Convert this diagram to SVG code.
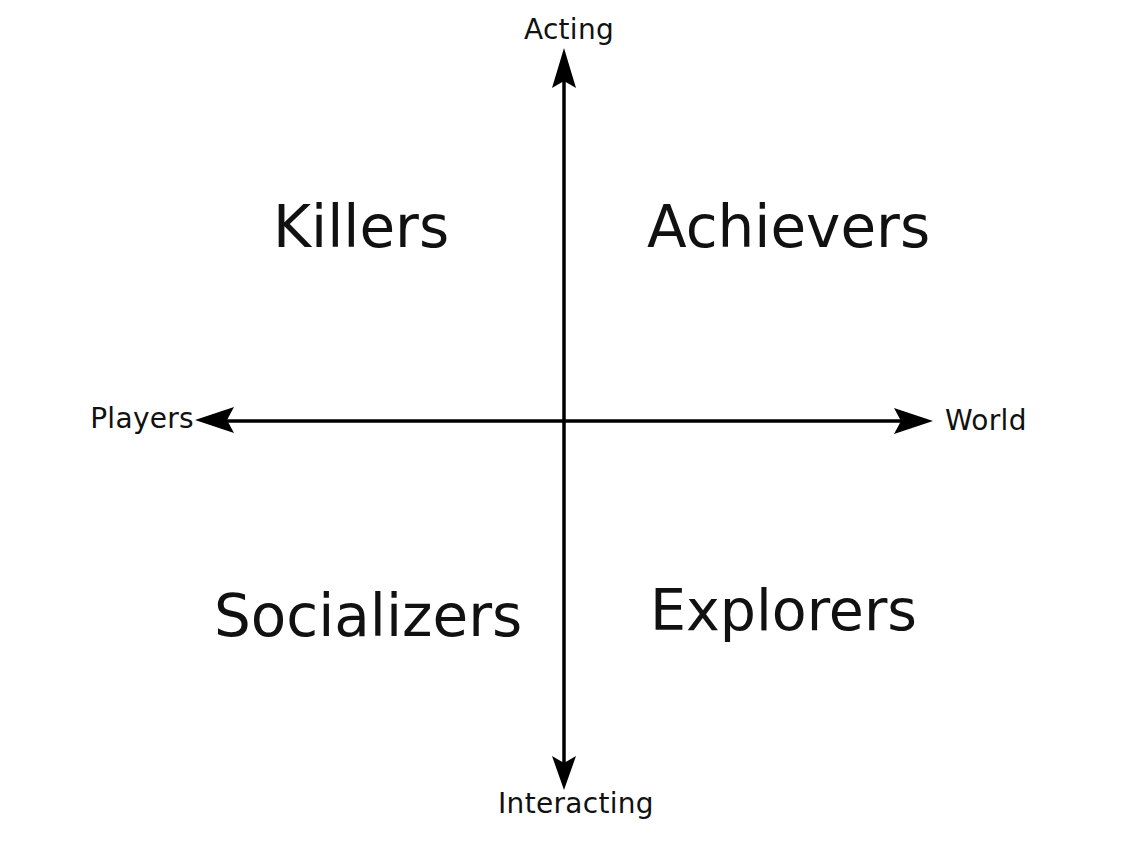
<svg xmlns="http://www.w3.org/2000/svg" width="1124" height="845" viewBox="0 0 1124 845">
<defs>
<style>
.axis{stroke:#000;stroke-width:3.5;fill:none}
.head{fill:#000;stroke:none}
.big{font-family:"DejaVu Sans",sans-serif;font-size:58px;fill:#111}
.small{font-family:"DejaVu Sans",sans-serif;font-size:28px;letter-spacing:0.3px;fill:#111}
</style>
</defs>
<rect width="1124" height="845" fill="#fff"/>
<g id="connectors">
<line class="axis" x1="564" y1="75" x2="564" y2="770"/>
<line class="axis" x1="215" y1="421" x2="915" y2="421"/>
<path class="head" d="M564,48 L576,88 L564,81 L552,88 Z"/>
<path class="head" d="M564,790 L576,756 L564,763 L552,756 Z"/>
<path class="head" d="M195,420 L234,407 L227,420 L234,433 Z"/>
<path class="head" d="M933,421 L894,408 L901,421 L894,434 Z"/>
</g>
<g id="acting"><text class="small" x="569" y="39" text-anchor="middle">Acting</text></g>
<g id="interacting"><text class="small" x="576" y="813" text-anchor="middle">Interacting</text></g>
<g id="players"><text class="small" x="194" y="428" text-anchor="end">Players</text></g>
<g id="world"><text class="small" x="945" y="430">World</text></g>
<g id="killers"><text class="big" x="273" y="247">Killers</text></g>
<g id="achievers"><text class="big" x="647" y="247">Achievers</text></g>
<g id="socializers"><text class="big" x="214" y="636">Socializers</text></g>
<g id="explorers"><text class="big" x="650" y="630" style="font-size:57px">Explorers</text></g>
</svg>
